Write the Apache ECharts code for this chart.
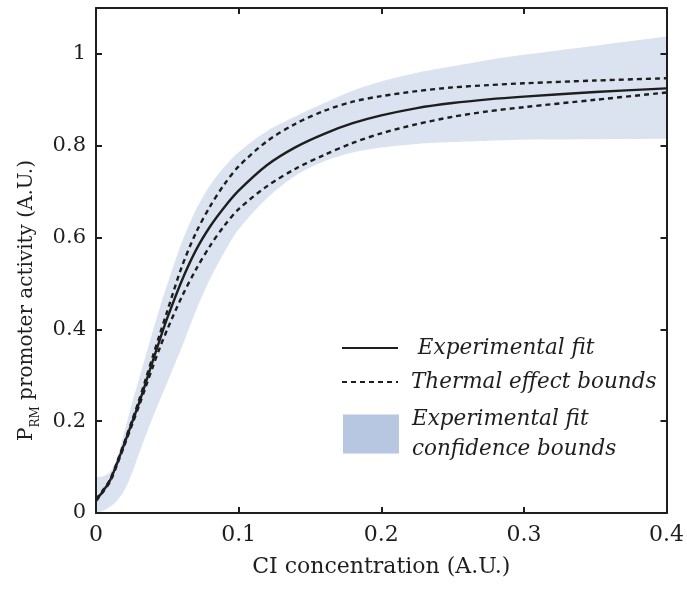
<!DOCTYPE html>
<html>
<head>
<meta charset="utf-8">
<script src="https://cdn.jsdelivr.net/npm/echarts@6/dist/echarts.min.js"></script>
<style>html,body{margin:0;padding:0;background:#fff}#c{width:687px;height:589px}</style>
</head>
<body>
<div id="c"></div>
<script>
var ciConc = [0, 0.005, 0.01, 0.015, 0.02, 0.025, 0.03, 0.035, 0.04, 0.045, 0.05, 0.06, 0.07, 0.08, 0.09, 0.1, 0.12, 0.14, 0.16, 0.18, 0.2, 0.225, 0.25, 0.275, 0.3, 0.35, 0.4];
var fitValues = [0.028, 0.048, 0.072, 0.110, 0.152, 0.195, 0.238, 0.285, 0.333, 0.380, 0.425, 0.505, 0.572, 0.624, 0.666, 0.702, 0.758, 0.797, 0.826, 0.849, 0.866, 0.882, 0.893, 0.901, 0.907, 0.917, 0.925];
var thermalUpper = [0.030, 0.050, 0.074, 0.113, 0.155, 0.199, 0.244, 0.293, 0.343, 0.392, 0.440, 0.535, 0.610, 0.668, 0.716, 0.755, 0.810, 0.848, 0.876, 0.896, 0.908, 0.919, 0.927, 0.932, 0.936, 0.942, 0.947];
var thermalLower = [0.026, 0.046, 0.069, 0.107, 0.148, 0.190, 0.232, 0.276, 0.320, 0.362, 0.400, 0.470, 0.530, 0.582, 0.626, 0.662, 0.712, 0.750, 0.780, 0.806, 0.827, 0.847, 0.863, 0.875, 0.884, 0.900, 0.916];
var confUpper = [0.078, 0.080, 0.090, 0.122, 0.178, 0.236, 0.290, 0.344, 0.398, 0.450, 0.498, 0.588, 0.660, 0.714, 0.754, 0.786, 0.832, 0.864, 0.893, 0.920, 0.940, 0.959, 0.973, 0.987, 0.998, 1.018, 1.038];
var confLower = [0.000, 0.005, 0.014, 0.028, 0.050, 0.085, 0.128, 0.170, 0.210, 0.248, 0.285, 0.360, 0.440, 0.510, 0.568, 0.618, 0.686, 0.735, 0.766, 0.785, 0.796, 0.804, 0.808, 0.811, 0.813, 0.814, 0.815];
var xTickLabels = ['0', '0.1', '0.2', '0.3', '0.4'];
var yTickLabels = ['0', '0.2', '0.4', '0.6', '0.8', '1'];

var FONT = 'DejaVu Serif';
var INK = '#1e1e1e';
function pairs(ys) { return ciConc.map(function (x, i) { return [x, ys[i]]; }); }

var chart = echarts.init(document.getElementById('c'), null, { renderer: 'canvas' });
var lineCommon = { type: 'line', symbol: 'none', showSymbol: false, smooth: 0.3, animation: false, z: 3 };
var BAND_NAME = 'Experimental fit\nconfidence bounds';
var axisLineStyle = { show: true, onZero: false, lineStyle: { color: INK, width: 2 } };
var tickStyle = { show: true, inside: true, length: 6, lineStyle: { color: INK, width: 2 } };

chart.setOption({
  animation: false,
  grid: { left: 96, right: 20, top: 8, bottom: 76, show: false },
  xAxis: [{
    type: 'value', min: 0, max: 0.4, interval: 0.1, z: 10,
    name: 'CI concentration (A.U.)', nameLocation: 'middle', nameGap: 43,
    nameTextStyle: { fontFamily: FONT, fontSize: 22, color: INK },
    axisLine: axisLineStyle, axisTick: tickStyle,
    axisLabel: { margin: 11, fontFamily: FONT, fontSize: 22, color: INK,
      formatter: function (v) { return xTickLabels[Math.round(v * 10)]; } },
    splitLine: { show: false }
  }, {
    type: 'value', min: 0, max: 0.4, interval: 0.1, position: 'top', z: 10,
    axisLine: axisLineStyle, axisTick: tickStyle,
    axisLabel: { show: false }, splitLine: { show: false }
  }],
  yAxis: [{
    type: 'value', min: 0, max: 1.1, interval: 0.2, z: 10,
    name: '{n|P}{s|RM}{n| promoter activity (A.U.)}', nameLocation: 'middle', nameRotate: 90, nameGap: 50,
    nameTextStyle: { fontFamily: FONT, color: INK, padding: [0, 80, 0, 0],
      rich: {
        n: { fontFamily: FONT, fontSize: 20, color: INK, lineHeight: 30, verticalAlign: 'middle' },
        s: { fontFamily: FONT, fontSize: 12, color: INK, lineHeight: 12, verticalAlign: 'bottom' }
      } },
    axisLine: axisLineStyle, axisTick: tickStyle,
    axisLabel: { margin: 10, fontFamily: FONT, fontSize: 21, color: INK, showMaxLabel: false,
      formatter: function (v) { var k = Math.round(v * 5); return k < yTickLabels.length ? yTickLabels[k] : ''; } },
    splitLine: { show: false }
  }, {
    type: 'value', min: 0, max: 1.1, interval: 0.2, position: 'right', z: 10,
    axisLine: axisLineStyle, axisTick: tickStyle,
    axisLabel: { show: false }, splitLine: { show: false }
  }],
  legend: [{
    orient: 'vertical', left: 336, top: 332, itemWidth: 56, itemHeight: 14, itemGap: 12,
    selectedMode: false, itemStyle: { opacity: 0 },
    textStyle: { fontFamily: FONT, fontStyle: 'italic', fontSize: 21.5, color: INK, lineHeight: 22, padding: [0, 0, 0, 8] },
    data: [{ name: ' Experimental fit' }, { name: 'Thermal effect bounds' }]
  }, {
    orient: 'vertical', left: 338, top: 388, itemWidth: 56, itemHeight: 39,
    selectedMode: false,
    textStyle: { fontFamily: FONT, fontStyle: 'italic', fontSize: 21.5, color: INK, lineHeight: 30, padding: [22, 0, 0, 8] },
    data: [{ name: BAND_NAME, icon: 'rect', itemStyle: { color: '#b7c6e1', opacity: 1 } }]
  }],
  series: [
    Object.assign({}, lineCommon, { name: BAND_NAME, data: pairs(confUpper), z: 1,
      lineStyle: { width: 0, opacity: 0 }, itemStyle: { color: '#b7c6e1' },
      areaStyle: { color: '#dbe3f0', opacity: 1 } }),
    Object.assign({}, lineCommon, { name: 'band-floor', data: pairs(confLower), z: 1,
      lineStyle: { width: 0, opacity: 0 }, itemStyle: { color: '#ffffff' },
      areaStyle: { color: '#ffffff', opacity: 1 } }),
    Object.assign({}, lineCommon, { name: 'Thermal effect bounds', data: pairs(thermalUpper),
      itemStyle: { color: INK }, lineStyle: { color: INK, width: 2.4, type: [5, 4] } }),
    Object.assign({}, lineCommon, { name: 'Thermal effect bounds', data: pairs(thermalLower),
      itemStyle: { color: INK }, lineStyle: { color: INK, width: 2.4, type: [5, 4] } }),
    Object.assign({}, lineCommon, { name: ' Experimental fit', data: pairs(fitValues),
      itemStyle: { color: INK }, lineStyle: { color: INK, width: 2.4 } })
  ]
});
</script>
</body>
</html>
